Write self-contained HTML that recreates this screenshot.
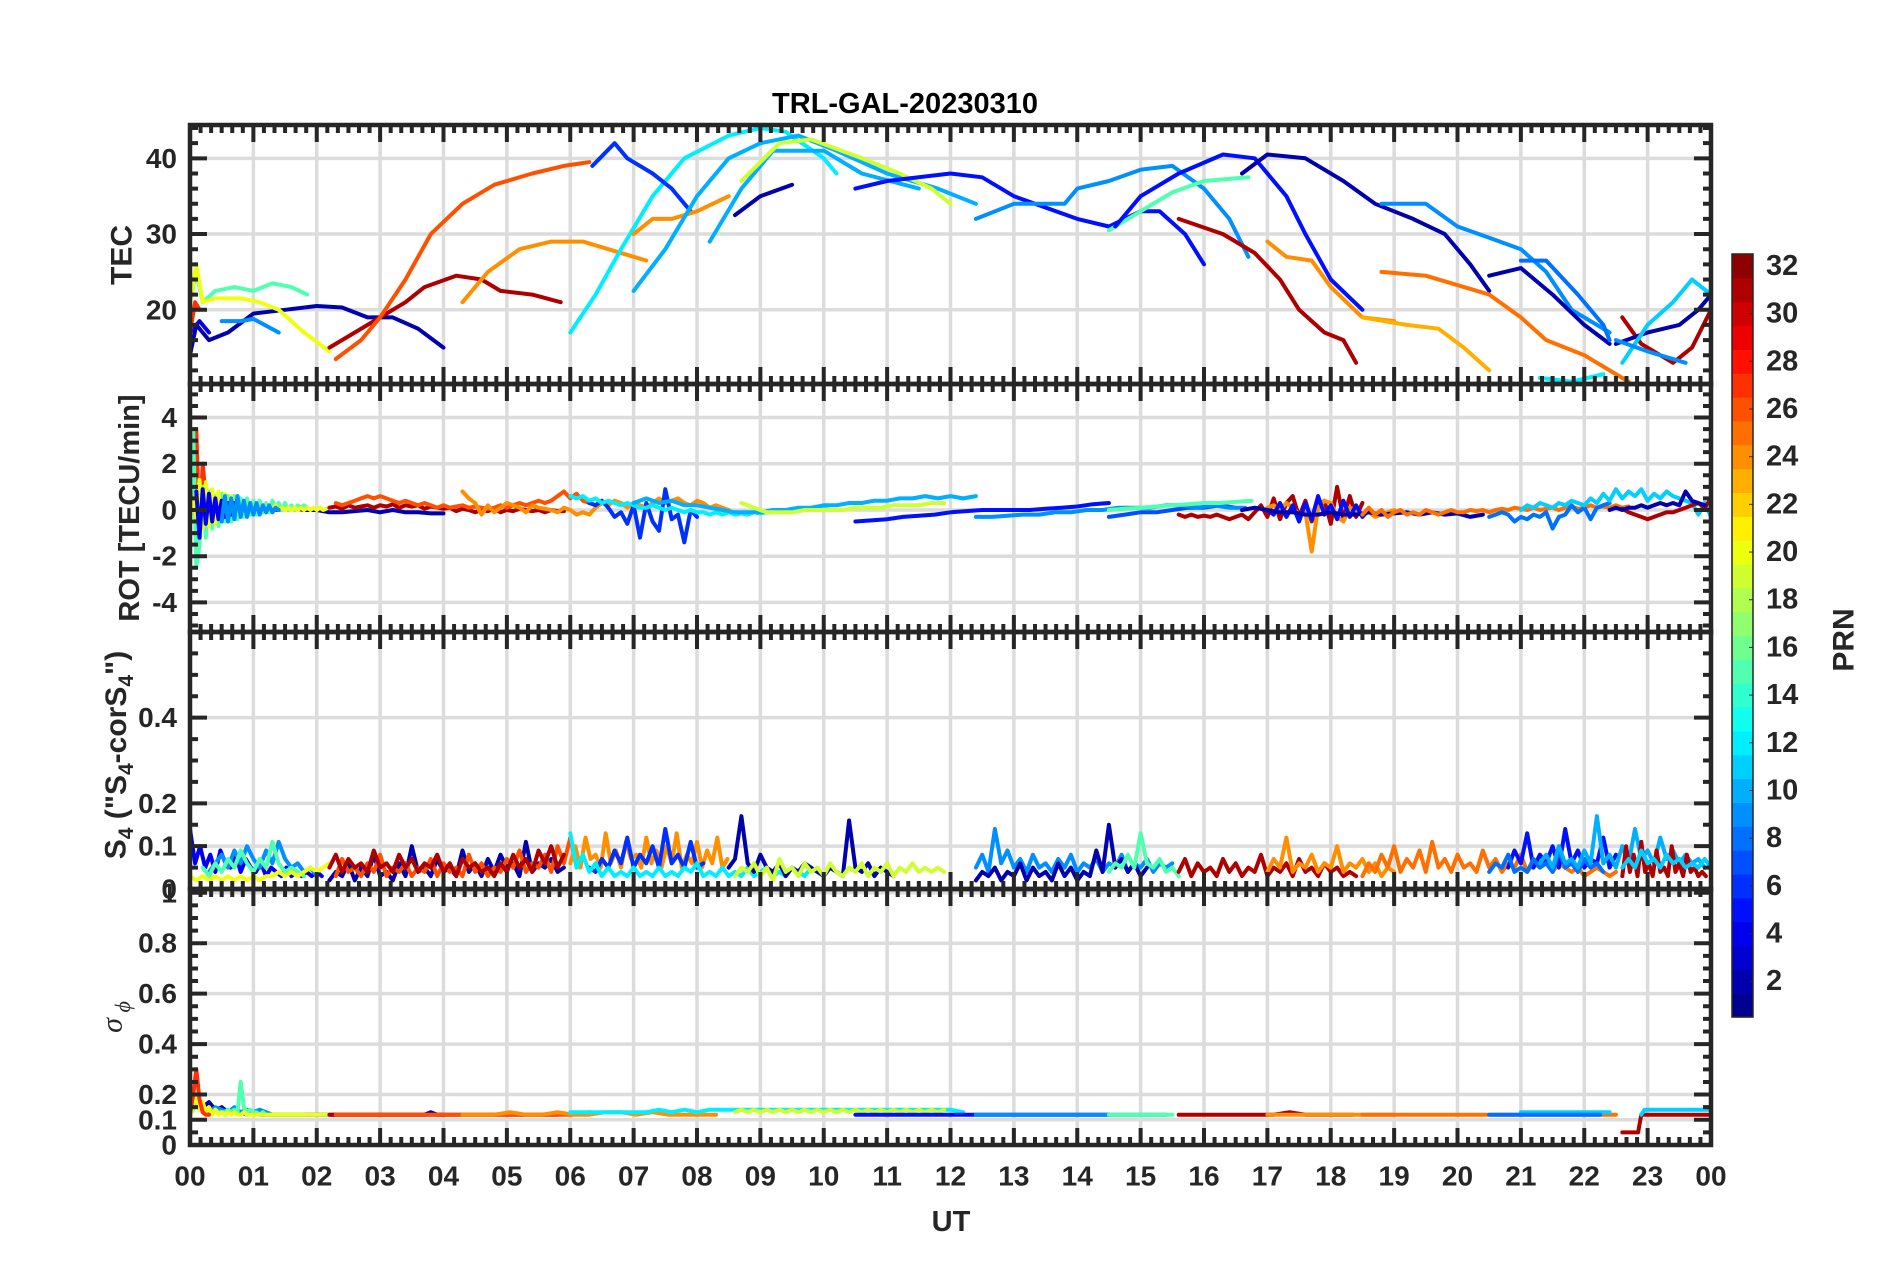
<!DOCTYPE html>
<html><head><meta charset="utf-8"><style>
html,body{margin:0;padding:0;background:#fff;}
svg{display:block;font-family:"Liberation Sans",Arial,sans-serif;}
</style></head><body>
<svg id="fig" width="1902" height="1272" viewBox="0 0 1902 1272" xmlns="http://www.w3.org/2000/svg">
<rect x="0" y="0" width="1902" height="1272" fill="#fff"/>
<g id="grid"></g><g id="data"></g><g id="axes"></g><g id="labels"></g><g id="cbar"></g>
</svg>
<script>
// ---------- TEC tracks ----------
const tecPrn=[2,4,27,15,20,9,31,26,24,12,6,24,10,10,19,2,5,9,15,5,2,31,24,9,23,25,2,8,12,31,2,11,9];
const tecHours=[
[0,0.1,0.3,0.6,1.0,1.5,2.0,2.4,2.8,3.2,3.6,4.0],
[0,0.15,0.3],
[0,0.08,0.15],
[0,0.1,0.2,0.4,0.7,1.0,1.3,1.6,1.85],
[0,0.1,0.2,0.4,0.8,1.1,1.4,1.8,2.2],
[0.5,0.8,1.0,1.4],
[2.2,2.6,3.0,3.4,3.7,4.2,4.6,4.9,5.4,5.85],
[2.3,2.7,3.0,3.4,3.8,4.3,4.8,5.4,5.9,6.3],
[4.3,4.7,5.2,5.7,6.2,6.6,7.2],
[6.0,6.4,6.8,7.3,7.8,8.5,9.0,9.4,10.0,10.2],
[6.35,6.7,6.9,7.3,7.6,7.9],
[7.0,7.3,7.6,8.0,8.5],
[7.0,7.5,8.0,8.5,9.0,9.6,10.2,11.0,11.8,12.4],
[8.2,8.7,9.2,10.0,10.6,11.5],
[8.7,9.3,9.8,10.6,11.2,11.7,12.0],
[8.6,9.0,9.5],
[10.5,11.0,12.0,12.5,13.0,14.0,14.5,15.0,15.3,15.7,16.0],
[12.4,13.0,13.8,14.0,14.5,15.0,15.5,16.0,16.4,16.7],
[14.5,15.0,15.5,16.0,16.7],
[14.6,15.0,15.6,16.3,16.8,17.3,17.6,18.0,18.5],
[16.6,17.0,17.6,18.2,18.7,19.3,19.8,20.2,20.5],
[15.6,16.3,16.8,17.2,17.5,17.9,18.2,18.4],
[17.0,17.3,17.7,18.0,18.5,19.0],
[18.8,19.5,20.0,20.5,21.0,21.4,21.8,22.4],
[18.5,19.2,19.7,20.1,20.5],
[18.8,19.5,20.5,21.0,21.4,22.0,22.4,22.7],
[20.5,21.0,21.5,22.0,22.4],
[21.0,21.4,21.9,22.3,22.4],
[21.3,21.8,22.3],
[22.6,22.9,23.4,23.7,24.0],
[22.5,23.0,23.5,23.8,24.0],
[22.6,23.0,23.4,23.7,24.0],
[22.5,23.0,23.6]];
const tecVals=[
[14,18,16,17,19.5,20,20.5,20.3,19,19,17.5,15],
[17,18.5,17],
[17,21,20],
[21,25,21,22.5,23,22.5,23.5,23,22],
[21,26,21,21.5,21.5,21,20,17,14.5],
[18.5,18.5,18.8,17],
[15,17,19,21,23,24.5,24,22.5,22,21],
[13.5,16,19,24,30,34,36.5,38,39,39.5],
[21,25,28,29,29,28,26.5],
[17,22,28,35,40,43,44,43.5,40,38],
[39,42,40,38,36,33],
[30,32,32,33,35],
[22.5,28,35,40,42,43,41,38,36,34],
[29,36,41,41,38,36],
[37,42,42.5,40,38,36,34],
[32.5,35,36.5],
[36,37,38,37.5,35,32,31,33,33,30,26],
[32,34,34,36,37,38.5,39,36,32,27],
[30.5,33,35.5,37,37.5],
[31,35,38,40.5,40,35,30,24,20],
[38,40.5,40,37,34,32,30,26,22.5],
[32,30,27.5,24,20,17,16,13],
[29,27,26.5,23,19,18.5],
[34,34,31,29.5,28,25,20,17],
[19,18,17.5,15,12],
[25,24.5,22,19,16,14,12,10.5],
[24.5,25.5,22,18,15.5],
[26.5,26.5,22,18,16],
[11,10.5,11.5],
[19,15.5,13,15,20],
[15.5,17,18,20,22],
[13,18,21,24,22],
[16,14.5,13]];
// ---------- ROT series ----------
const rotPrn=[2,27,15,20,4,9,31,26,24,6,12,10,19,5,7,9,15,31,24,5,2,25,8,11,31,2];
const rotStart=[0,0,0,0,0.1,0.5,2.2,2.3,4.3,6.3,6.0,7.0,8.7,10.5,14.5,12.4,14.5,15.6,17.0,17.0,16.6,18.5,20.5,21.0,22.6,22.4];
const rotStep=[0.2,0.05,0.05,0.05,0.05,0.05,0.1,0.1,0.1,0.1,0.1,0.2,0.2,0.25,0.25,0.25,0.25,0.1,0.1,0.1,0.2,0.1,0.1,0.1,0.1,0.1];
const rotVals=[
[0,-0.3,0.2,0.1,0.1,0.1,0.05,0,0.1,0,0,-0.1,-0.1,-0.05,0,-0.1,0,-0.1,-0.1,-0.15,-0.15],
[0,1.5,3.5,-1.2,2,0.5,-0.5,0.3,0],
[0.5,3.5,-2.5,-1.5,1,-1.2,0.8,-0.8,0.6,-0.7,0.7,-0.5,0.6,-0.5,0.6,-0.4,0.5,-0.3,0.5,-0.2,0.4,-0.2,0.4,-0.1,0.3,-0.1,0.4,0.1,0.3,0,0.3,0,0.2,0,0.2,0.1,0.2,0.1],
[-0.5,0.5,-0.3,1.3,-0.8,1.2,-0.7,0.9,-0.6,0.8,-0.5,0.7,-0.4,0.6,-0.3,0.5,-0.3,0.4,-0.2,0.3,-0.2,0.3,-0.1,0.2,-0.1,0.2,0,0.2,0,0.1,0,0.1,0,0.1,0,0.1,0,0.1,0,0.1,0,0.1,0,0.05],
[0.8,-1.2,0.9,-0.6,0.7,-0.5,0.5,-0.4,0.4,-0.3,0.3,-0.2,0.3],
[-0.5,0.6,-0.5,0.5,-0.4,0.6,-0.3,0.4,-0.3,0.3,-0.2,0.3,-0.2,0.2,-0.1,0.2,-0.1,0.1,0],
[0.1,0.15,0.05,0.2,0.1,0.15,0.2,0.1,0.2,0.15,0.25,0.1,0.2,0.15,0.2,0.05,0.15,0.1,0.05,0.1,-0.05,0.05,0,-0.1,0,-0.05,0.05,-0.1,0,-0.05,0.05,0,-0.05,0,-0.1,0,-0.05,-0.05],
[0.3,0.2,0.3,0.4,0.5,0.6,0.5,0.6,0.5,0.4,0.3,0.4,0.3,0.2,0.3,0.2,0.1,0.2,0.1,0.15,0.2,0.1,0.15,0.1,0.05,0.1,0.2,0.1,0.2,0.3,0.2,0.3,0.4,0.3,0.4,0.6,0.8,0.5,0.7,0.4,0.3],
[0.8,0.5,0.3,-0.2,0.2,-0.1,0.1,0.3,0.2,0.1,-0.1,0.2,0.1,0.05,0,-0.1,0.1,0,-0.2,-0.1,-0.2,0.1,0.3,0.2,0.4,0.3,0.1,0.3,0.2,0.1,0.3,0.5,0.3,0.4,0.5,0.3,0.2,0.4,0.3,0.1,0.2,0.1,0],
[0.3,0.2,0.4,0.1,-0.3,-0.1,-0.6,0.2,-1.2,0.3,-0.5,-0.9,0.9,-0.4,-0.2,-1.4,0,-0.3],
[0.6,0.5,0.6,0.4,0.5,0.3,0.4,0.3,0.2,0.3,0.2,0.1,0.1,0.2,0.1,0,0.1,0,-0.1,0,-0.1,-0.1,-0.2,-0.1,-0.2,-0.1,-0.2,-0.15,-0.2,-0.1,-0.15,-0.1,-0.1,-0.05,-0.1,0,-0.05,0,0.05,0,0.05,0,0],
[0.3,0.5,0.3,0.4,0.2,0.2,0.1,0,-0.1,-0.1,-0.1,0,0,0.1,0.1,0.2,0.2,0.3,0.3,0.4,0.4,0.5,0.5,0.6,0.5,0.6,0.5,0.6],
[0.3,0.1,-0.1,-0.1,-0.1,0,0,0,0,0.1,0.1,0.1,0.2,0.2,0.2,0.3,0.3],
[-0.5,-0.45,-0.4,-0.3,-0.25,-0.2,-0.1,-0.05,0,0,0,0,0.05,0.1,0.15,0.25,0.3],
[-0.3,-0.2,-0.1,-0.1,0,0.1,0.1,0.2,0.1],
[-0.3,-0.3,-0.25,-0.2,-0.2,-0.1,-0.1,0,0,0.1,0.1,0.1,0.2,0.2,0.1,0.2,0.1,0.1],
[0,0.05,0.1,0.15,0.2,0.25,0.3,0.3,0.35,0.4],
[-0.2,-0.3,-0.2,-0.3,-0.25,-0.3,-0.2,-0.3,-0.4,-0.3,-0.2,-0.4,-0.1,0.2,-0.3,0.5,-0.4,0.3,0.6,-0.3,0.4,-0.5,0.2,0.4,-0.6,1.0,-0.4,0.6,-0.3,0.3],
[0.1,0.2,0,0.3,0.1,-0.2,-0.1,-1.8,0.1,0.4,0.3,-0.3,-0.5,0.1,0,-0.2,-0.1,-0.3,-0.2,-0.1,0],
[0,-0.2,0.3,-0.3,0.2,-0.5,0.3,-0.4,0.6,-0.2,0.2,-0.4,0.4,-0.3,0.2,-0.3,0],
[0,0.1,0,-0.1,-0.1,-0.2,-0.2,-0.1,-0.2,-0.2,-0.1,-0.2,-0.15,-0.1,-0.2,-0.1,-0.2,-0.15,-0.3,-0.2],
[-0.2,0.1,-0.2,0,-0.3,-0.1,0,-0.2,-0.1,-0.2,0,-0.1,-0.2,-0.1,0,-0.1,-0.1,0,-0.05,0,-0.1,0,0.05,0,0.1,0.05,0,0.1,0,0.05,0.1,0,0.1,0.15,0.05,0.1,0.2,0.1,0.15,0.1,0.2,0.1,0.15],
[-0.3,-0.2,-0.1,-0.2,-0.5,-0.3,-0.4,-0.2,-0.3,-0.1,-0.8,-0.3,-0.2,0.2,-0.1,0.1,-0.4,0.1,0.2,0.3],
[0,0.2,0.1,0.3,0.2,0.1,0.3,0.2,0.4,0.3,0.2,0.5,0.3,0.7,0.4,0.9,0.5,0.8,0.6,0.9,0.4,0.7,0.5,0.8,0.6,0.5,0.4,0.3,-0.2,0.3,-0.3],
[0.05,-0.1,-0.2,-0.3,-0.4,-0.3,-0.2,-0.1,-0.1,0,0.1,0.2,0.3,0.1,0.5],
[0,0.1,0,0.1,0.1,0.2,0.1,0.2,0.3,0.2,0.3,0.2,0.8,0.4,0.3,0.2]];
// ---------- S4 series ----------
const s4Prn=[4,9,15,20,2,26,31,24,6,12,2,19,9,2,15,31,24,25,5,8,10,31,11];
const s4Start=[0,0.3,0.2,0,2.2,2.3,2.2,6.0,6.3,6.0,8.5,8.6,12.4,12.4,14.5,15.6,17.0,18.5,20.8,20.5,21.3,22.6,22.6];
const s4Step=[0.08,0.1,0.1,0.1,0.1,0.1,0.1,0.08,0.1,0.1,0.1,0.1,0.1,0.1,0.1,0.1,0.1,0.1,0.1,0.1,0.1,0.06,0.1];
const s4Vals=[
[0.14,0.06,0.1,0.05,0.08,0.04,0.09,0.06,0.05,0.08,0.04,0.07,0.05,0.04,0.06,0.03,0.05,0.04,0.03,0.05,0.03,0.04,0.03,0.04,0.03,0.04,0.03],
[0.04,0.06,0.08,0.05,0.09,0.06,0.1,0.07,0.05,0.09,0.06,0.11,0.07,0.05,0.06,0.04,0.05,0.03],
[0.05,0.03,0.06,0.04,0.07,0.05,0.09,0.06,0.04,0.07,0.05,0.11,0.06,0.04,0.05,0.04,0.03],
[0.03,0.02,0.03,0.02,0.03,0.02,0.03,0.02,0.03,0.02,0.03,0.02,0.03,0.03,0.04,0.03,0.04,0.03,0.04,0.05,0.04,0.05,0.06],
[0.02,0.04,0.03,0.06,0.02,0.05,0.03,0.08,0.03,0.04,0.02,0.06,0.03,0.1,0.04,0.05,0.03,0.07,0.04,0.05,0.03,0.09,0.04,0.06,0.03,0.07,0.04,0.08,0.05,0.06,0.03,0.11,0.04,0.06,0.05,0.07,0.04,0.05],
[0.03,0.07,0.04,0.05,0.03,0.06,0.04,0.08,0.03,0.05,0.04,0.06,0.03,0.05,0.04,0.07,0.03,0.06,0.04,0.05,0.03,0.08,0.04,0.06,0.03,0.05,0.04,0.07,0.05,0.09,0.04,0.06,0.05,0.08,0.04,0.1,0.06,0.12,0.05,0.07],
[0.05,0.08,0.04,0.07,0.05,0.06,0.04,0.09,0.05,0.06,0.04,0.08,0.05,0.07,0.04,0.06,0.05,0.08,0.04,0.06,0.03,0.07,0.05,0.06,0.04,0.05,0.03,0.06,0.04,0.08,0.05,0.07,0.04,0.09,0.06,0.1,0.05,0.08],
[0.06,0.1,0.05,0.12,0.07,0.08,0.05,0.13,0.06,0.09,0.05,0.11,0.07,0.08,0.05,0.12,0.06,0.09,0.05,0.1,0.06,0.13,0.05,0.08,0.06,0.11,0.05,0.09,0.06,0.12,0.05,0.07],
[0.05,0.04,0.07,0.05,0.09,0.06,0.12,0.05,0.08,0.06,0.1,0.05,0.14,0.06,0.08,0.05,0.11,0.05,0.06],
[0.13,0.05,0.08,0.04,0.06,0.03,0.05,0.03,0.04,0.03,0.05,0.03,0.04,0.03,0.05,0.03,0.04,0.03,0.05,0.04,0.06,0.03,0.04,0.03,0.05,0.03,0.04,0.03,0.05,0.03,0.04,0.05,0.03,0.04,0.03,0.05,0.04,0.03,0.05,0.04],
[0.05,0.07,0.17,0.06,0.04,0.08,0.05,0.04,0.06,0.03,0.05,0.04,0.06,0.05,0.04,0.03,0.05,0.04,0.03,0.16,0.05,0.04,0.06,0.03,0.05,0.04,0.03],
[0.03,0.05,0.04,0.06,0.03,0.05,0.02,0.07,0.04,0.05,0.03,0.06,0.04,0.05,0.03,0.06,0.04,0.03,0.05,0.04,0.06,0.03,0.05,0.04,0.06,0.03,0.05,0.04,0.06,0.04,0.05,0.04,0.05,0.04],
[0.05,0.08,0.04,0.14,0.06,0.09,0.05,0.07,0.04,0.08,0.05,0.06,0.04,0.07,0.05,0.08,0.04,0.06,0.05,0.07,0.04,0.06,0.05,0.08,0.04,0.06,0.05,0.07,0.04,0.06,0.05,0.06],
[0.02,0.04,0.03,0.05,0.02,0.04,0.03,0.06,0.02,0.05,0.03,0.04,0.02,0.06,0.03,0.05,0.02,0.04,0.03,0.09,0.04,0.15,0.05,0.07,0.04,0.06,0.03,0.05],
[0.04,0.06,0.05,0.08,0.05,0.13,0.06,0.05,0.07,0.04,0.05,0.03],
[0.04,0.07,0.03,0.06,0.04,0.05,0.03,0.07,0.04,0.06,0.03,0.05,0.04,0.08,0.03,0.05,0.04,0.06,0.03,0.07,0.04,0.05,0.03,0.06,0.04,0.05,0.03,0.04,0.03],
[0.04,0.07,0.05,0.12,0.04,0.06,0.05,0.08,0.04,0.06,0.05,0.1,0.04,0.06,0.05,0.07,0.04,0.06,0.03,0.05,0.04],
[0.03,0.06,0.04,0.08,0.05,0.1,0.04,0.07,0.05,0.09,0.04,0.11,0.05,0.07,0.04,0.08,0.05,0.06,0.04,0.09,0.05,0.07,0.04,0.06,0.05,0.08,0.04,0.06,0.05,0.07,0.04,0.06,0.05,0.04,0.05,0.03,0.04,0.05,0.04,0.03,0.04],
[0.05,0.09,0.06,0.13,0.05,0.08,0.06,0.1,0.05,0.14,0.06,0.09,0.05,0.07,0.06,0.12,0.05,0.08],
[0.04,0.06,0.05,0.08,0.04,0.05,0.04,0.07,0.05,0.06,0.04,0.09,0.05,0.06,0.04,0.07,0.05,0.06,0.04],
[0.06,0.08,0.05,0.1,0.06,0.07,0.05,0.09,0.06,0.17,0.06,0.08,0.05,0.1,0.06,0.14,0.07,0.09,0.06,0.12,0.07,0.09,0.06,0.08,0.06,0.07,0.05],
[0.03,0.1,0.04,0.08,0.03,0.11,0.04,0.06,0.03,0.09,0.04,0.05,0.03,0.1,0.04,0.06,0.03,0.08,0.04,0.05,0.03,0.04,0.03],
[0.05,0.07,0.05,0.09,0.06,0.07,0.05,0.08,0.06,0.07,0.05,0.06,0.05,0.07,0.05]];
// ---------- sigma-phi series ----------
const sgPrn=[2,9,15,20,27,31,26,24,12,19,5,9,15,31,24,25,11,8,31];
const sgStart=[0,0.3,0,0,0,2.2,2.3,4.3,6.0,8.6,10.5,12.4,14.5,15.6,17.0,18.5,21.0,20.5,22.6];
const sgStep=[0.1,0.1,0.05,0.05,0.05,0.2,0.25,0.25,0.2,0.1,0.25,0.25,0.25,0.25,0.25,0.25,0.2,0.25,0.05];
const sgVals=[
[0.12,0.18,0.15,0.17,0.14,0.15,0.13,0.14,0.13,0.12,0.13,0.12,0.12,0.12,0.12,0.12,0.12,0.12,0.12,0.12,0.12,0.12,0.12,0.12,0.12,0.12,0.12,0.12,0.12,0.12,0.12,0.12,0.12,0.12,0.12,0.12,0.12,0.12,0.13,0.12,0.12],
[0.13,0.15,0.14,0.13,0.15,0.13,0.14,0.13,0.14,0.13,0.12],
[0.12,0.14,0.16,0.14,0.15,0.13,0.14,0.13,0.14,0.13,0.13,0.13,0.14,0.13,0.14,0.13,0.25,0.15,0.13,0.14,0.13,0.13,0.12,0.13,0.12,0.12,0.12,0.12,0.12,0.12,0.12,0.12,0.12,0.12,0.12,0.12,0.12],
[0.11,0.16,0.2,0.14,0.17,0.13,0.15,0.12,0.14,0.12,0.13,0.12,0.13,0.12,0.13,0.12,0.12,0.13,0.12,0.12,0.12,0.12,0.12,0.12,0.12,0.12,0.12,0.12,0.12,0.12,0.12,0.12,0.12,0.12,0.12,0.12,0.12,0.12,0.12,0.12,0.12,0.12,0.12,0.12,0.12],
[0.12,0.2,0.3,0.18,0.13,0.12,0.12],
[0.12,0.12,0.12,0.12,0.12,0.12,0.12,0.12,0.12,0.12,0.12,0.12,0.12,0.12,0.12,0.12,0.12,0.12,0.12],
[0.12,0.12,0.12,0.12,0.12,0.12,0.12,0.12,0.12,0.12,0.12,0.12,0.12,0.12,0.12,0.12,0.13],
[0.12,0.12,0.12,0.13,0.12,0.12,0.13,0.12,0.12,0.13,0.13,0.12,0.13,0.12,0.12,0.12,0.12],
[0.13,0.13,0.13,0.13,0.13,0.13,0.13,0.14,0.13,0.14,0.13,0.14,0.14,0.14,0.14,0.14,0.14,0.14,0.14,0.14,0.14,0.14,0.14,0.14,0.14,0.14,0.14,0.14,0.14,0.14,0.14,0.13],
[0.13,0.14,0.13,0.14,0.13,0.14,0.13,0.14,0.13,0.14,0.13,0.14,0.13,0.14,0.13,0.14,0.13,0.14,0.13,0.14,0.13,0.14,0.13,0.14,0.13,0.14,0.13,0.14,0.13,0.14,0.13,0.14,0.13,0.14],
[0.12,0.12,0.12,0.12,0.12,0.12,0.12,0.12,0.12,0.12,0.12,0.12,0.12,0.12,0.12,0.12,0.12],
[0.12,0.12,0.12,0.12,0.12,0.12,0.12,0.12,0.12,0.12,0.12,0.12,0.12],
[0.12,0.12,0.12,0.12,0.12],
[0.12,0.12,0.12,0.12,0.12,0.12,0.12,0.13,0.12,0.12,0.12,0.12],
[0.12,0.12,0.12,0.12,0.12,0.12,0.12,0.12,0.12],
[0.12,0.12,0.12,0.12,0.12,0.12,0.12,0.12,0.12,0.12,0.12,0.12,0.12,0.12,0.12,0.12,0.12],
[0.13,0.13,0.13,0.13,0.13,0.13,0.13,0.13],
[0.12,0.12,0.12,0.12,0.12,0.12,0.12,0.12],
[0.05,0.05,0.05,0.05,0.05,0.05,0.12,0.12,0.12,0.12,0.12,0.12,0.12,0.12,0.12,0.12,0.12,0.12,0.12,0.12,0.12,0.12,0.12,0.12,0.12,0.12,0.12,0.12]];
const sgExtraPrn=[11];
const sgExtraHours=[[22.9,22.95,24]];
const sgExtraVals=[[0.12,0.14,0.14]];
// ---------- axis tick labels ----------
const hourLabels=["00","01","02","03","04","05","06","07","08","09","10","11","12","13","14","15","16","17","18","19","20","21","22","23","00"];
const tecTicks=[20,30,40];
const rotTicks=[-4,-2,0,2,4];
const s4Ticks=[0,0.1,0.2,0.4];
const sgTicks=[0,0.1,0.2,0.4,0.6,0.8,1];
const cbTicks=[2,4,6,8,10,12,14,16,18,20,22,24,26,28,30,32];

const NS="http://www.w3.org/2000/svg";
const X0=190, X1=1711;
const xs=h=>X0+(X1-X0)*h/24;
const panels={
 tec:{top:125,bot:384,ymin:10.2,ymax:44.4},
 rot:{top:384,bot:632,ymin:-5.28,ymax:5.45},
 s4:{top:632,bot:889,ymin:0,ymax:0.6},
 sg:{top:889,bot:1145,ymin:0,ymax:1.015}
};
function ys(p,v){const P=panels[p];return P.bot-(v-P.ymin)/(P.ymax-P.ymin)*(P.bot-P.top);}
function jet(p){const t=(p-0.5)/32;const c=x=>Math.round(255*Math.max(0,Math.min(1,1.5-Math.abs(4*t-x))));return `rgb(${c(3)},${c(2)},${c(1)})`;}
function mk(tag,attrs,parent){const e=document.createElementNS(NS,tag);for(const k in attrs)e.setAttribute(k,attrs[k]);parent.appendChild(e);return e;}
const gGrid=document.getElementById('grid'),gData=document.getElementById('data'),gAx=document.getElementById('axes'),gLab=document.getElementById('labels'),gCb=document.getElementById('cbar');
const INK="#262626";

function line(panel,prn,hours,vals,name){
 let d="";
 for(let i=0;i<vals.length;i++){
  const v=Math.max(panels[panel].ymin,Math.min(panels[panel].ymax,vals[i]));
  d+=(i?"L":"M")+xs(hours[i]).toFixed(1)+","+ys(panel,v).toFixed(1);
 }
 const e=mk('path',{d:d,fill:"none",stroke:jet(prn),"stroke-width":4,"stroke-linejoin":"round","stroke-linecap":"round"},gData);
 
 
}
function stepSeries(panel,prns,starts,steps,vals,prefix){
 for(let i=0;i<prns.length;i++){
  const hrs=vals[i].map((_,k)=>Math.min(24,starts[i]+k*steps[i]));
  line(panel,prns[i],hrs,vals[i],prefix+"-prn"+prns[i]+"-"+i);
 }
}
for(let i=0;i<tecPrn.length;i++) line('tec',tecPrn[i],tecHours[i],tecVals[i],"tec-track-prn"+tecPrn[i]+"-"+i);
stepSeries('rot',rotPrn,rotStart,rotStep,rotVals,"rot-series");
stepSeries('s4',s4Prn,s4Start,s4Step,s4Vals,"s4-series");
stepSeries('sg',sgPrn,sgStart,sgStep,sgVals,"sigma-series");
for(let i=0;i<sgExtraPrn.length;i++) line('sg',sgExtraPrn[i],sgExtraHours[i],sgExtraVals[i],"sigma-series-extra-"+i);

function txt(x,y,s,opt,parent,name){
 const e=mk('text',Object.assign({x:x,y:y,fill:INK,"font-size":28,"font-weight":"bold","text-anchor":"middle","dominant-baseline":"central"},opt||{}),parent||gLab);
 e.textContent=s;
 
 
 return e;
}
function drawPanel(p,majors,minorStep,name){
 const P=panels[p];
 for(let h=1;h<24;h++){const e=mk('line',{x1:xs(h),x2:xs(h),y1:P.top,y2:P.bot,stroke:"#dcdcdc","stroke-width":3.5},gGrid);}
 majors.forEach(v=>{const y=ys(p,v);if(y>P.top+3&&y<P.bot-3){const e=mk('line',{x1:X0,x2:X1,y1:y,y2:y,stroke:"#dcdcdc","stroke-width":3.5},gGrid);}});
 const r=mk('rect',{x:X0,y:P.top,width:X1-X0,height:P.bot-P.top,fill:"none",stroke:INK,"stroke-width":4.5},gAx);
 
 let d="";
 for(let k=0;k<=144;k++){const x=xs(k/6);const L=(k%6===0)?17:8;d+=`M${x},${P.top}v${L}M${x},${P.bot}v${-L}`;}
 const eps=1e-6;
 for(let v=Math.ceil(P.ymin/minorStep)*minorStep;v<=P.ymax+eps;v+=minorStep){
  const isMaj=majors.some(m=>Math.abs(m-v)<eps);const y=ys(p,v);const L=isMaj?17:8;
  d+=`M${X0},${y}h${L}M${X1},${y}h${-L}`;
 }
 const t=mk('path',{d:d,stroke:INK,"stroke-width":4,fill:"none"},gAx);
 
 majors.forEach(v=>txt(177,ys(p,v),String(v),{"text-anchor":"end"},gLab,name+'-ytick-label'));
}
drawPanel('tec',tecTicks,2,'tec-panel');
drawPanel('rot',rotTicks,0.5,'rot-panel');
drawPanel('s4',s4Ticks,0.05,'s4-panel');
drawPanel('sg',sgTicks,0.05,'sigma-panel');
hourLabels.forEach((s,i)=>txt(xs(i),1176,s,{},gLab,'x-tick-label'));
</script>
<script>
(function(){
 const NS="http://www.w3.org/2000/svg";
 const lab=document.getElementById('labels');
 lab.insertAdjacentHTML('beforeend',`
 <text x="905" y="104" font-size="29" font-weight="bold" fill="#000" text-anchor="middle" dominant-baseline="central">TRL-GAL-20230310</text>
 <text x="951" y="1222" font-size="29" font-weight="bold" fill="#262626" text-anchor="middle" dominant-baseline="central">UT</text>
 <text transform="translate(122,255) rotate(-90)" font-size="30" font-weight="bold" fill="#262626" text-anchor="middle" dominant-baseline="central">TEC</text>
 <text transform="translate(130,508) rotate(-90)" font-size="29" font-weight="bold" fill="#262626" text-anchor="middle" dominant-baseline="central">ROT [TECU/min]</text>
 <text transform="translate(116,755) rotate(-90)" font-size="30" font-weight="bold" fill="#262626" text-anchor="middle" dominant-baseline="central">S<tspan font-size="21" dy="10">4</tspan><tspan dy="-10"> ("S</tspan><tspan font-size="21" dy="10">4</tspan><tspan dy="-10">-corS</tspan><tspan font-size="21" dy="10">4</tspan><tspan dy="-10">")</tspan></text>
 <text transform="translate(112,1017) rotate(-90)" font-size="30" font-style="italic" font-family="Liberation Serif, serif" fill="#262626" text-anchor="middle" dominant-baseline="central">σ<tspan font-size="22" dy="10"> ϕ</tspan></text>
 <text transform="translate(1844,640) rotate(-90)" font-size="30" font-weight="bold" fill="#262626" text-anchor="middle" dominant-baseline="central">PRN</text>`);
 const cb=document.getElementById('cbar');
 const top=254,bot=1017,x=1732,w=21;
 const jet=p=>{const t=(p-0.5)/32;const c=k=>Math.round(255*Math.max(0,Math.min(1,1.5-Math.abs(4*t-k))));return `rgb(${c(3)},${c(2)},${c(1)})`;};
 const yv=v=>bot-(v-0.5)/32*(bot-top);
 for(let p=1;p<=32;p++){
  const r=document.createElementNS(NS,'rect');
  r.setAttribute('x',x);r.setAttribute('y',yv(p+0.5));r.setAttribute('width',w);r.setAttribute('height',(bot-top)/32+0.6);r.setAttribute('fill',jet(p));
  
  
  cb.appendChild(r);
 }
 const f=document.createElementNS(NS,'rect');f.setAttribute('x',x);f.setAttribute('y',top);f.setAttribute('width',w);f.setAttribute('height',bot-top);f.setAttribute('fill','none');f.setAttribute('stroke','#262626');f.setAttribute('stroke-width','1.5');
 
 
 cb.appendChild(f);
 cbTicks.forEach(v=>{
  const y=yv(v);
  const l=document.createElementNS(NS,'line');l.setAttribute('x1',x+w-4);l.setAttribute('x2',x+w);l.setAttribute('y1',y);l.setAttribute('y2',y);l.setAttribute('stroke','#262626');l.setAttribute('stroke-width','1');
  
  
  cb.appendChild(l);
  const t=document.createElementNS(NS,'text');t.setAttribute('x',1766);t.setAttribute('y',y);t.setAttribute('font-size','29');t.setAttribute('font-weight','bold');t.setAttribute('fill','#262626');t.setAttribute('dominant-baseline','central');t.textContent=String(v);
  
  
  cb.appendChild(t);
 });
})();
</script>
</body></html>
